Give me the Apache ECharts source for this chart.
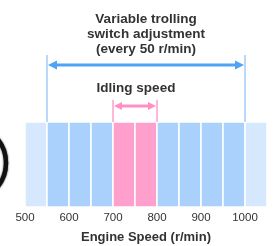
<!DOCTYPE html>
<html>
<head>
<meta charset="utf-8">
<script src="https://cdn.jsdelivr.net/npm/echarts@6/dist/echarts.min.js"></script>
<style>
  html, body { margin: 0; padding: 0; background: #fff; }
  #main { width: 275px; height: 246px; }
</style>
</head>
<body>
<div id="main"></div>
<script>
// cells of the speed band, 50 r/min each
var cellStarts = [500, 550, 600, 650, 700, 750, 800, 850, 900, 950, 1000];
var cellKinds  = ['edge', 'adj', 'adj', 'adj', 'idle', 'idle', 'adj', 'adj', 'adj', 'adj', 'edge'];
var cellWidth = 50;
var tickLabels = [500, 600, 700, 800, 900, 1000];
var adjustRange = [550, 1000];
var idleRange = [700, 800];

var kindColor = { edge: '#d6e8fd', adj: '#a9d1fb', idle: '#ff9fcc' };
var fontFam = "'Liberation Sans', Arial, sans-serif";

var chart = echarts.init(document.getElementById('main'));

function arrowItem(x0, x1, y, yTop, lineColor, tickColor, head, hw) {
    return {
        type: 'group',
        children: [
            { type: 'line', shape: { x1: x0, y1: yTop, x2: x0, y2: 122 }, style: { stroke: tickColor, lineWidth: 1.5 } },
            { type: 'line', shape: { x1: x1, y1: yTop, x2: x1, y2: 122 }, style: { stroke: tickColor, lineWidth: 1.5 } },
            { type: 'line', shape: { x1: x0 + head - 1, y1: y, x2: x1 - head + 1, y2: y }, style: { stroke: lineColor, lineWidth: 3 } },
            { type: 'polygon', shape: { points: [[x0 + 1, y], [x0 + head + 1, y - hw], [x0 + head + 1, y + hw]] }, style: { fill: lineColor } },
            { type: 'polygon', shape: { points: [[x1 - 1, y], [x1 - head - 1, y - hw], [x1 - head - 1, y + hw]] }, style: { fill: lineColor } }
        ]
    };
}

var option = {
    animation: false,
    grid: { left: 25, right: 8, top: 122, bottom: 39 },
    xAxis: {
        type: 'value',
        min: 500,
        max: 1050,
        interval: 100,
        axisLine: { show: false },
        axisTick: { show: false },
        splitLine: { show: false },
        axisLabel: {
            color: '#333',
            fontFamily: fontFam,
            fontSize: 11.5,
            margin: 5,
            showMaxLabel: false,
            formatter: function (v) { return tickLabels.indexOf(v) >= 0 ? String(v) : ''; }
        },
        name: 'Engine Speed (r/min)',
        nameLocation: 'middle',
        nameGap: 24,
        nameTextStyle: { color: '#333', fontFamily: fontFam, fontSize: 13, fontWeight: 'bold' }
    },
    yAxis: { type: 'value', min: 0, max: 1, show: false },
    graphic: [
        {
            type: 'circle',
            shape: { cx: -32, cy: 163, r: 38 },
            style: { fill: 'none', stroke: '#111', lineWidth: 4.5, shadowBlur: 2, shadowColor: '#333' }
        },
        {
            type: 'text',
            x: 146, y: 12,
            style: {
                text: 'Variable trolling\nswitch adjustment\n(every 50 r/min)',
                align: 'center',
                font: 'bold 13.5px ' + fontFam,
                lineHeight: 15,
                fill: '#333'
            }
        },
        {
            type: 'text',
            x: 136, y: 81,
            style: { text: 'Idling speed', align: 'center', font: 'bold 13.5px ' + fontFam, fill: '#333' }
        }
    ],
    series: [
        {
            type: 'custom',
            data: cellStarts.map(function (s, i) { return [s, i]; }),
            renderItem: function (params, api) {
                var s = api.value(0);
                var p0 = api.coord([s, 0]);
                var p1 = api.coord([s + cellWidth, 1]);
                return {
                    type: 'rect',
                    shape: { x: p0[0], y: p1[1], width: p1[0] - p0[0], height: p0[1] - p1[1] },
                    style: { fill: kindColor[cellKinds[api.value(1)]], stroke: '#fff', lineWidth: 1.5 }
                };
            }
        },
        {
            type: 'custom',
            clip: false,
            data: [[adjustRange[0], adjustRange[1], 0], [idleRange[0], idleRange[1], 1]],
            renderItem: function (params, api) {
                var a = api.coord([api.value(0), 0])[0];
                var b = api.coord([api.value(1), 0])[0];
                if (api.value(2) === 0) {
                    return arrowItem(a, b, 65, 55, '#4fa3f4', '#a3cdf8', 9, 4.5);
                }
                return arrowItem(a, b, 106, 100, '#ff8fc4', '#ff9fcc', 8, 4);
            }
        }
    ]
};
chart.setOption(option);
</script>
</body>
</html>
